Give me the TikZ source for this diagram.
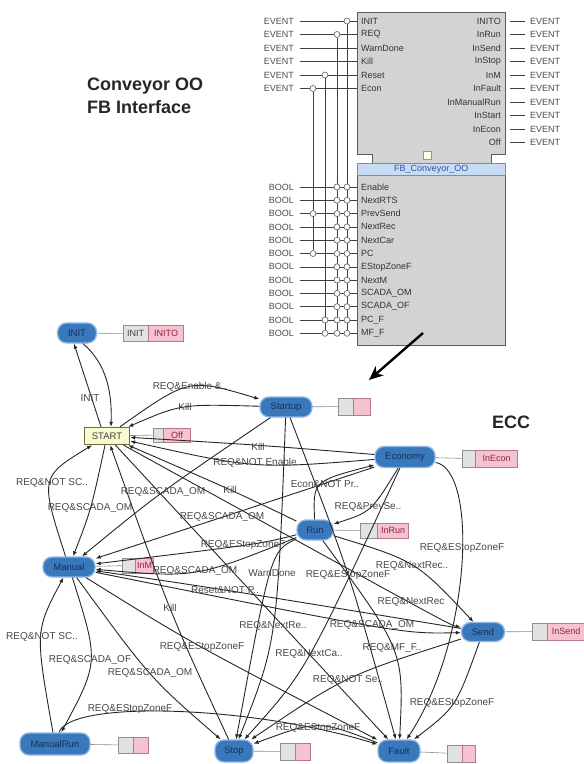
\documentclass[tikz,border=0pt]{standalone}
\usepackage{fontspec}
\setmainfont{Liberation Sans}
\usetikzlibrary{arrows.meta}
\pgfdeclarelayer{wires}
\pgfsetlayers{wires,main}

\definecolor{stateblue}{HTML}{3A78BC}
\definecolor{stateedge}{HTML}{8DB8E6}
\definecolor{statetext}{HTML}{16305A}
\definecolor{startfill}{HTML}{FAFAD0}
\definecolor{startedge}{HTML}{6E6E3C}
\definecolor{algfill}{HTML}{E2E2E2}
\definecolor{algedge}{HTML}{8E8E8E}
\definecolor{evfill}{HTML}{F4C3CF}
\definecolor{evedge}{HTML}{B87888}
\definecolor{evtext}{HTML}{9A2040}
\definecolor{fbfill}{HTML}{D3D3D3}
\definecolor{fbedge}{HTML}{5A5A5A}
\definecolor{fbhead}{HTML}{C9DDF2}
\definecolor{hdtext}{HTML}{3050A0}
\definecolor{lblcol}{HTML}{474747}
\definecolor{arccol}{HTML}{262626}

\tikzset{
  fbbody/.style={draw=fbedge, fill=fbfill, line width=0.8pt},
  fbhd/.style={draw=fbedge!70, fill=fbhead, line width=0.5pt, inner sep=0pt,
    text=hdtext, font=\fontsize{9}{10}\selectfont},
  typelbl/.style={font=\fontsize{9}{10}\selectfont, text=black!70, inner ysep=0pt},
  pinlbl/.style={font=\fontsize{9}{10}\selectfont, text=black!80, inner ysep=0pt},
  pinc/.style={circle, draw=fbedge, fill=white, inner sep=0pt, minimum size=6pt, line width=0.6pt},
  wire/.style={draw=black!75, line width=0.6pt},
  bigarrow/.style={draw=black, line width=2.4pt, -{Stealth[length=14pt,width=12pt,inset=4pt]}},
  ttl/.style={font=\bfseries\fontsize{18}{22}\selectfont, text=black!85, inner sep=0pt},
  state/.style={rounded corners=9pt, fill=stateblue, draw=stateedge, line width=1.3pt,
    text=statetext, minimum height=20pt, inner sep=1pt, font=\fontsize{9.5}{10}\selectfont},
  startst/.style={draw=startedge, fill=startfill, line width=1.4pt, minimum width=45pt,
    minimum height=17pt, inner sep=1pt, text=black!75, font=\fontsize{9.5}{10}\selectfont},
  alg/.style={draw=algedge, fill=algfill, inner sep=1pt, anchor=west,
    text=black!75, font=\fontsize{9}{10}\selectfont},
  evb/.style={draw=evedge, fill=evfill, inner sep=1pt, anchor=west,
    text=evtext, font=\fontsize{9}{10}\selectfont},
  actl/.style={draw=black!45, line width=0.6pt},
  tr/.style={draw=arccol, line width=0.9pt, -{Latex[length=5pt,width=4pt]}},
  cond/.style={text=lblcol, inner sep=0pt, font=\fontsize{10}{11}\selectfont}
}

\begin{document}
\begin{tikzpicture}[x=1pt, y=-1pt]
\useasboundingbox (0,0) rectangle (584,764);

% ---------- function block interface ----------
\draw[fbbody] (357,12) -- (505,12) -- (505,154) -- (491,154) -- (491,163) -- (505,163)
  -- (505,345) -- (357,345) -- (357,163) -- (372,163) -- (372,154) -- (357,154) -- cycle;
\node[fbhd, minimum width=148pt, minimum height=12pt, anchor=north west] (hdr) at (357,163) {FB\_Conveyor\_OO};
\node[draw=olive!70!yellow, fill=yellow!8, minimum size=8pt, inner sep=0pt, line width=0.7pt] (yq) at (427,155) {};

% event inputs
\foreach \n [count=\i from 0] in {INIT,REQ,WarnDone,Kill,Reset,Econ} {
  \pgfmathsetmacro\yy{21+13.5*\i}
  \node[typelbl, anchor=east, inner xsep=6pt] (ei\i) at (300,\yy) {EVENT};
  \node[pinlbl, anchor=west, inner xsep=4pt] (pi\i) at (357,\yy) {\n};
}
% event outputs
\foreach \n [count=\i from 0] in {INITO,InRun,InSend,InStop,InM,InFault,InManualRun,InStart,InEcon,Off} {
  \pgfmathsetmacro\yy{21+13.5*\i}
  \node[pinlbl, anchor=east, inner xsep=0pt] (po\i) at (501,\yy) {\n};
  \node[typelbl, anchor=west, inner xsep=0pt] (eo\i) at (530,\yy) {EVENT};
}
% data inputs
\foreach \n [count=\i from 0] in {Enable,NextRTS,PrevSend,NextRec,NextCar,PC,EStopZoneF,NextM,SCADA\_OM,SCADA\_OF,PC\_F,MF\_F} {
  \pgfmathsetmacro\yy{187+13.3*\i}
  \node[typelbl, anchor=east, inner xsep=6pt] (bi\i) at (300,\yy) {BOOL};
  \node[pinlbl, anchor=west, inner xsep=4pt] (pb\i) at (357,\yy) {\n};
  \node[pinc] (cA\i) at (347,\yy) {};
  \node[pinc] (cB\i) at (337,\yy) {};
}
% WITH associations
\node[pinc] (cE0) at (347,21) {};
\node[pinc] (cE1) at (337,34.5) {};
\node[pinc] (cE4) at (325,75) {};
\node[pinc] (cE5) at (313,88.5) {};
\node[pinc] (cC2) at (313,213.6) {};
\node[pinc] (cC5) at (313,253.5) {};
\node[pinc] (cD10) at (325,320) {};
\node[pinc] (cD11) at (325,333.3) {};

\begin{pgfonlayer}{wires}
  \foreach \i in {0,...,5} \draw[wire] (ei\i) -- (pi\i);
  \foreach \i in {0,...,11} \draw[wire] (bi\i) -- (pb\i);
  \foreach \i in {0,...,9} \draw[wire] ([xshift=9pt]po\i.east) -- ([xshift=-5pt]eo\i.west);
  \draw[wire] (cE0) -- (cA11);
  \draw[wire] (cE1) -- (cB11);
  \draw[wire] (cE4) -- (cD11);
  \draw[wire] (cE5) -- (cC5);
\end{pgfonlayer}

% titles
\node[ttl, anchor=base west] (t1) at (87,90) {Conveyor OO};
\node[ttl, anchor=base west] (t2) at (87,113) {FB Interface};
\node[ttl, anchor=base west] (t3) at (492,428) {ECC};

% pointer from the block to the chart
\coordinate (arrS) at (423,333);
\coordinate (arrE) at (369,380);
\draw[bigarrow] (arrS) -- (arrE);

% ---------- execution control chart ----------
\node[state, minimum width=39pt] (INIT) at (77,333) {INIT};
\node[startst] (START) at (107,436) {START};
\node[state, minimum width=52pt] (Startup) at (286,407) {Startup};
\node[state, minimum width=60pt, minimum height=21pt] (Economy) at (405,457) {Economy};
\node[state, minimum width=36pt] (Run) at (315,530) {Run};
\node[state, minimum width=52pt] (Manual) at (69,567) {Manual};
\node[state, minimum width=43pt, minimum height=19pt] (Send) at (483,632) {Send};
\node[state, minimum width=70pt, minimum height=22pt] (ManualRun) at (55,744) {ManualRun};
\node[state, minimum width=38pt, minimum height=22pt] (Stop) at (234,751) {Stop};
\node[state, minimum width=42pt, minimum height=22pt] (Fault) at (399,751) {Fault};

% actions
\node[alg, minimum width=25pt, minimum height=16pt] (INITa) at (123,333.5) {INIT};
\node[evb, minimum width=35pt, minimum height=16pt] (INITe) at (INITa.east) {INITO};
\node[alg, minimum width=10pt, minimum height=14pt] (STARTa) at (153,435) {};
\node[evb, minimum width=27pt, minimum height=14pt] (STARTe) at (STARTa.east) {Off};
\node[alg, minimum width=15pt, minimum height=17pt] (Startupa) at (338,406.5) {};
\node[evb, minimum width=17pt, minimum height=17pt] (Startupe) at (Startupa.east) {};
\node[alg, minimum width=13pt, minimum height=17pt] (Economya) at (462,458.5) {};
\node[evb, minimum width=42pt, minimum height=17pt] (Economye) at (Economya.east) {InEcon};
\node[alg, minimum width=17pt, minimum height=15pt] (Runa) at (360,530.5) {};
\node[evb, minimum width=31pt, minimum height=15pt] (Rune) at (Runa.east) {InRun};
\node[alg, minimum width=13pt, minimum height=15pt] (Manuala) at (122,565.5) {};
\node[evb, minimum width=18pt, minimum height=15pt] (Manuale) at (Manuala.east) {InM};
\node[alg, minimum width=15pt, minimum height=17pt] (Senda) at (532,631.5) {};
\node[evb, minimum width=37pt, minimum height=17pt] (Sende) at (Senda.east) {InSend};
\node[alg, minimum width=15pt, minimum height=16pt] (ManualRuna) at (118,745) {};
\node[evb, minimum width=15pt, minimum height=16pt] (ManualRune) at (ManualRuna.east) {};
\node[alg, minimum width=15pt, minimum height=17pt] (Stopa) at (280,751.5) {};
\node[evb, minimum width=15pt, minimum height=17pt] (Stope) at (Stopa.east) {};
\node[alg, minimum width=15pt, minimum height=17pt] (Faulta) at (447,753.5) {};
\node[evb, minimum width=13pt, minimum height=17pt] (Faulte) at (Faulta.east) {};

\foreach \s in {INIT,START,Startup,Economy,Run,Manual,Send,ManualRun,Stop,Fault}
  \draw[actl] (\s) -- (\s a);

% transitions
\draw[tr] ([xshift=-6pt]START.north) -- ([xshift=-3pt]INIT.south);
\draw[tr] ([xshift=6pt]INIT.south) .. controls (108,365) and (112,395) .. ([xshift=4pt]START.north);
\draw[tr] (START) .. controls (189,378) .. (Startup);
\draw[tr] (Startup) .. controls (181,404) .. (START);
\draw[tr] (Economy) .. controls (259,445) .. (START);
\draw[tr] (Economy) .. controls (255,469) .. (START);
\draw[tr] (Manual) .. controls (40,477) .. (START);
\draw[tr] (START) .. controls (91,510) .. (Manual);
\draw[tr] (Startup) .. controls (158,494) .. (Manual);
\draw[tr] (Economy) .. controls (217,519) .. (Manual);
\draw[tr] (Run) .. controls (236,492) .. (START);
\draw[tr] (Run) .. controls (260,544) .. (Manual);
\draw[tr] (Run) .. controls (196,578) .. (Manual);
\draw[tr] (Run) .. controls (313,481) .. (Economy);
\draw[tr] (Economy) .. controls (371,512) .. (Run);
\draw[tr] (Run) .. controls (271,551) .. (Stop);
\draw[tr] (Startup) .. controls (350,574) .. (Fault);
\draw[tr] (Run) .. controls (416,561) .. (Send);
\draw[tr] (START) .. controls (450,625) .. (Send);
\draw[tr] (Manual) .. controls (404,634) .. (Send);
\draw[tr] (Send) .. controls (208,587) .. (Manual);
\draw[tr] (Stop) .. controls (170,613) .. (START);
\draw[tr] (Startup) .. controls (277,642) .. (Stop);
\draw[tr] (Manual) .. controls (191,643) .. (Fault);
\draw[tr] (ManualRun) .. controls (35,631) .. (Manual);
\draw[tr] (Manual) .. controls (99,662) .. (ManualRun);
\draw[tr] (Manual) .. controls (150,678) .. (Stop);
\draw[tr] (Economy) .. controls (306,671) .. (Stop);
\draw[tr] (Run) .. controls (404,651) .. (Fault);
\draw[tr] (Send) .. controls (345,676) .. (Stop);
\draw[tr] (Economy) .. controls (478,470) and (472,640) .. (Fault);
\draw[tr] (Send) .. controls (456,707) .. (Fault);
\draw[tr] (ManualRun) .. controls (70,700) and (250,705) .. (Fault);
\draw[tr] (Fault) .. controls (318,720) .. (Stop);
\draw[tr] (START) -- (Fault);

% transition conditions
\node[cond] (c1) at (90,398) {INIT};
\node[cond] (c2) at (190,387) {REQ\&Enable \&..};
\node[cond] (c3) at (185,407) {Kill};
\node[cond] (c4) at (258,447) {Kill};
\node[cond] (c5) at (255,463) {REQ\&NOT Enable};
\node[cond] (c6) at (52,483) {REQ\&NOT SC..};
\node[cond] (c7) at (90,508) {REQ\&SCADA\_OM};
\node[cond] (c8) at (163,492) {REQ\&SCADA\_OM};
\node[cond] (c9) at (222,517) {REQ\&SCADA\_OM};
\node[cond] (c10) at (230,490) {Kill};
\node[cond] (c11) at (243,545) {REQ\&EStopZoneF};
\node[cond] (c12) at (195,571) {REQ\&SCADA\_OM};
\node[cond] (c13) at (325,484) {Econ\&NOT Pr..};
\node[cond] (c14) at (368,507) {REQ\&PrevSe..};
\node[cond] (c15) at (272,573) {WarnDone};
\node[cond] (c16) at (348,575) {REQ\&EStopZoneF};
\node[cond] (c17) at (412,566) {REQ\&NextRec..};
\node[cond] (c18) at (411,602) {REQ\&NextRec};
\node[cond] (c19) at (372,625) {REQ\&SCADA\_OM};
\node[cond] (c20) at (225,590) {Reset\&NOT P..};
\node[cond] (c21) at (170,608) {Kill};
\node[cond] (c22) at (273,626) {REQ\&NextRe..};
\node[cond] (c23) at (202,647) {REQ\&EStopZoneF};
\node[cond] (c24) at (42,637) {REQ\&NOT SC..};
\node[cond] (c25) at (90,660) {REQ\&SCADA\_OF};
\node[cond] (c26) at (150,673) {REQ\&SCADA\_OM};
\node[cond] (c27) at (309,654) {REQ\&NextCa..};
\node[cond] (c28) at (392,648) {REQ\&MF\_F..};
\node[cond] (c29) at (348,680) {REQ\&NOT Se..};
\node[cond] (c30) at (462,548) {REQ\&EStopZoneF};
\node[cond] (c31) at (452,703) {REQ\&EStopZoneF};
\node[cond] (c32) at (130,709) {REQ\&EStopZoneF};
\node[cond] (c33) at (318,728) {REQ\&EStopZoneF};
\end{tikzpicture}
\end{document}
